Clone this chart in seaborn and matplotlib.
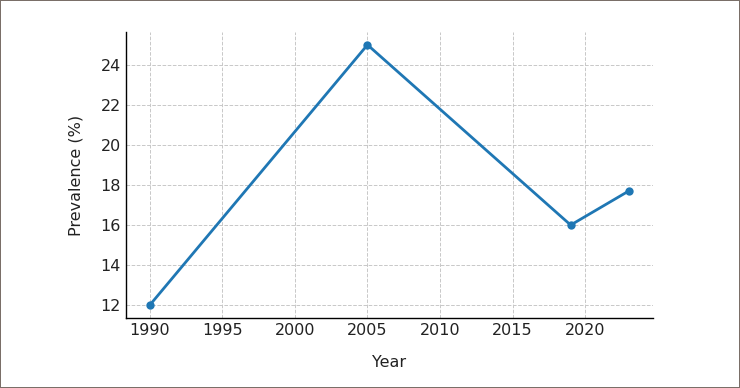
import numpy as np
import pandas as pd
import matplotlib
matplotlib.use("Agg")
import matplotlib.pyplot as plt
import seaborn as sns

years = [1990, 2005, 2019, 2023]
prevalence = [12, 25, 16, 17.7]

df = pd.DataFrame({"Year": years, "Prevalence": prevalence})

sns.set_style("white")
plt.rcParams["font.family"] = ["DejaVu Sans"]

fig = plt.figure(figsize=(7.4, 3.88), dpi=100, edgecolor="#7a6f68", linewidth=1.2)
ax = fig.add_axes([0.170, 0.180, 0.712, 0.738])

sns.lineplot(data=df, x="Year", y="Prevalence", marker="o", color="#1f77b4",
             linewidth=2, markersize=6, markeredgewidth=0, ax=ax)

ax.set_xticks([1990, 1995, 2000, 2005, 2010, 2015, 2020])
ax.set_yticks([12, 14, 16, 18, 20, 22, 24])
ax.grid(True, linestyle="--", color="#c8c8c8", linewidth=0.7)
ax.tick_params(direction="in", labelsize=11.5, length=4, width=1, colors="black")
ax.tick_params(labelcolor="#222222")
for s in ["top", "right"]:
    ax.spines[s].set_visible(False)
for s in ["left", "bottom"]:
    ax.spines[s].set_color("black")
    ax.spines[s].set_linewidth(1)

ax.set_xlabel("Year", fontsize=11.5, labelpad=12, color="#222222")
ax.set_ylabel("Prevalence (%)", fontsize=11.5, labelpad=12, color="#222222")

fig.savefig("out.png", dpi=100, edgecolor=fig.get_edgecolor())
